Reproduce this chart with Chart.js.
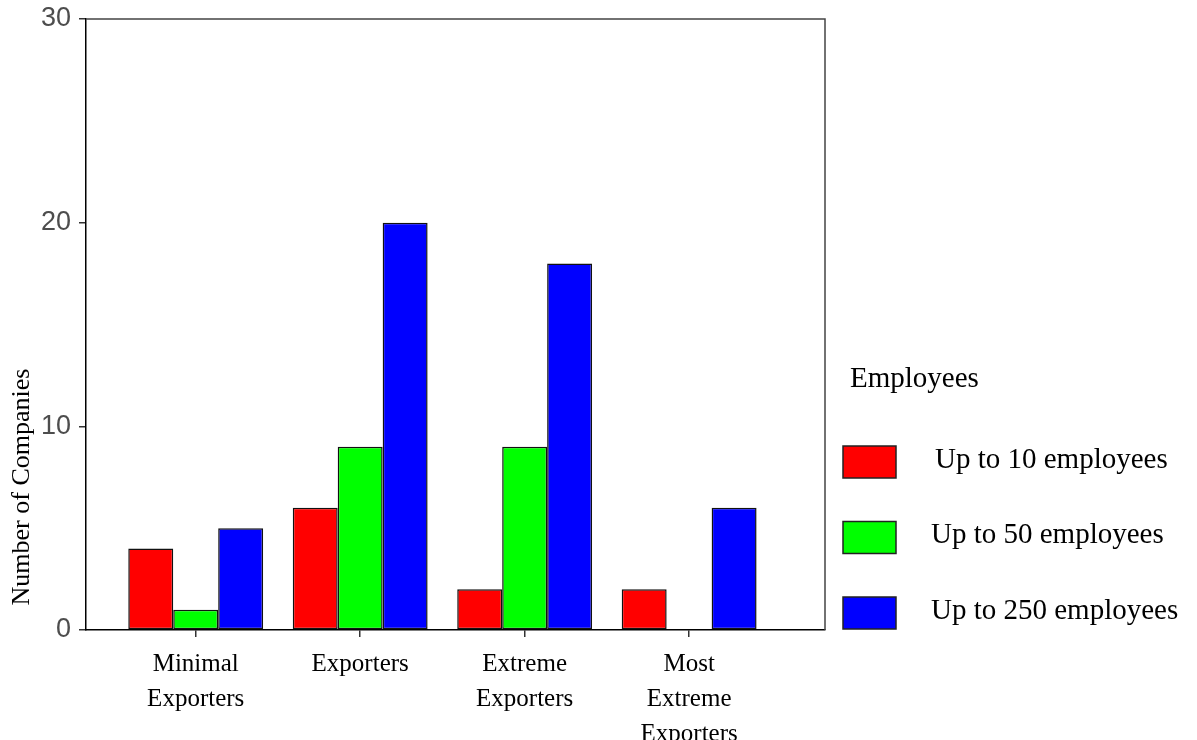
<!DOCTYPE html>
<html>
<head>
<meta charset="utf-8">
<script src="https://cdn.jsdelivr.net/npm/chart.js@4/dist/chart.umd.min.js"></script>
<style>
  html, body { margin: 0; padding: 0; background: #fff; }
  #wrap { width: 1197px; height: 740px; }
</style>
</head>
<body>
<div id="wrap"><canvas id="myChart" width="1197" height="740"></canvas></div>
<script>
// categories on the x axis (multi-line tick labels)
const tickLabels = [
    ["Minimal", "Exporters"],
    ["Exporters"],
    ["Extreme", "Exporters"],
    ["Most", "Extreme", "Exporters"],
];

const seriesNames = ["Up to 10 employees", "Up to 50 employees", "Up to 250 employees"];
const seriesColors = ["#ff0000", "#00ff00", "#0000ff"];

const upTo10 = [4, 6, 2, 2];
const upTo50 = [1, 9, 9, 0];
const upTo250 = [5, 20, 18, 6];

const yTicks = [0, 10, 20, 30];

const legendTitle = "Employees";
const yTitle = "Number of Companies";

const serif = "'Liberation Serif', 'Times New Roman', serif";
const sans = "'Liberation Sans', Arial, sans-serif";

const toPoints = (values) => values.map((v, i) => ({ x: i, y: v }));

// top + right border of the panel
const framePlugin = {
    id: "frame",
    afterDraw(chart) {
        const { ctx, chartArea: a } = chart;
        ctx.save();
        ctx.strokeStyle = "#444";
        ctx.lineWidth = 1.5;
        ctx.beginPath();
        ctx.moveTo(a.left, a.top);
        ctx.lineTo(a.right, a.top);
        ctx.lineTo(a.right, a.bottom);
        ctx.stroke();
        ctx.restore();
    },
};

// rotated y axis title, sits lower than the axis centre
const yTitlePlugin = {
    id: "yTitle",
    afterDraw(chart) {
        const { ctx } = chart;
        ctx.save();
        ctx.translate(22, 487);
        ctx.rotate(-Math.PI / 2);
        ctx.font = "26px " + serif;
        ctx.fillStyle = "#000";
        ctx.textAlign = "center";
        ctx.textBaseline = "middle";
        ctx.fillText(yTitle, 0, 0);
        ctx.restore();
    },
};

// legend on the right
const legendPlugin = {
    id: "sideLegend",
    afterDraw(chart) {
        const { ctx } = chart;
        ctx.save();
        ctx.font = "29px " + serif;
        ctx.fillStyle = "#000";
        ctx.textBaseline = "middle";
        ctx.fillText(legendTitle, 850, 379);
        const textX = [935, 931, 931];
        chart.data.datasets.forEach((ds, i) => {
            const top = 446 + i * 75.5;
            ctx.fillStyle = ds.backgroundColor;
            ctx.fillRect(843, top, 53, 32);
            ctx.strokeStyle = "#222";
            ctx.lineWidth = 1.5;
            ctx.strokeRect(843, top, 53, 32);
            ctx.fillStyle = "#000";
            ctx.fillText(ds.label, textX[i], top + 14);
        });
        ctx.restore();
    },
};

const ctx = document.getElementById("myChart").getContext("2d");

const myChart = new Chart(ctx, {
    type: "bar",
    data: {
        datasets: [upTo10, upTo50, upTo250].map((vals, i) => ({
            label: seriesNames[i],
            data: toPoints(vals),
            backgroundColor: seriesColors[i],
            borderColor: "#111",
            borderWidth: 1.5,
            borderSkipped: false,
            categoryPercentage: 0.82,
            barPercentage: 1.0,
        })),
    },
    options: {
        responsive: false,
        animation: false,
        layout: { padding: { top: 19, right: 372, left: 0, bottom: 0 } },
        plugins: {
            legend: { display: false },
            tooltip: { enabled: false },
        },
        scales: {
            x: {
                type: "linear",
                offset: false,
                min: -0.667,
                max: 3.826,
                afterBuildTicks: (scale) => {
                    scale.ticks = tickLabels.map((_, i) => ({ value: i }));
                },
                afterFit: (scale) => {
                    scale.height = 110;
                    scale.paddingLeft = 0;
                    scale.paddingRight = 0;
                },
                grid: {
                    offset: false,
                    drawOnChartArea: false,
                    drawTicks: true,
                    tickLength: 7,
                    color: "#333",
                    lineWidth: 1.5,
                },
                border: { display: true, color: "#000", width: 1.5 },
                ticks: {
                    autoSkip: false,
                    maxRotation: 0,
                    padding: 10,
                    color: "#000",
                    font: { family: serif, size: 25, lineHeight: 1.4 },
                    callback: (value, index) => tickLabels[index],
                },
            },
            y: {
                min: 0,
                max: 30,
                afterBuildTicks: (scale) => {
                    scale.ticks = yTicks.map((v) => ({ value: v }));
                },
                afterFit: (scale) => {
                    scale.width = 86;
                    scale.paddingTop = 0;
                    scale.paddingBottom = 0;
                },
                grid: {
                    drawOnChartArea: false,
                    drawTicks: true,
                    tickLength: 7,
                    color: "#333",
                    lineWidth: 1.5,
                },
                border: { display: true, color: "#000", width: 1.5 },
                ticks: {
                    padding: 8,
                    color: "#4d4d4d",
                    font: { family: sans, size: 27 },
                },
            },
        },
    },
    plugins: [framePlugin, yTitlePlugin, legendPlugin],
});
</script>
</body>
</html>
